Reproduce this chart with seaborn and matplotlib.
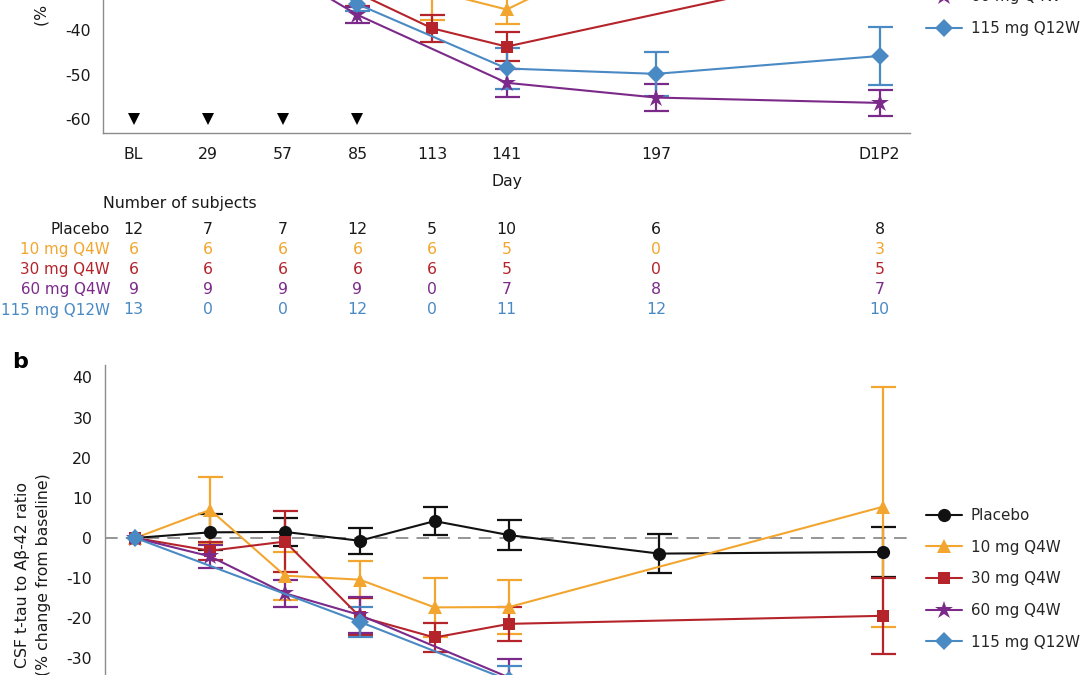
import numpy as np
import pandas as pd
import matplotlib
matplotlib.use('Agg')
import matplotlib.pyplot as plt
import seaborn as sns
from matplotlib.transforms import blended_transform_factory

# === Datos ===
visitas = ['BL', '29', '57', '85', '113', '141', '197', 'D1P2']
dias = [1, 29, 57, 85, 113, 141, 197, 281]
grupos = ['Placebo', '10 mg Q4W', '30 mg Q4W', '60 mg Q4W', '115 mg Q12W']
colores = ['#111111', '#F2A62F', '#B5242B', '#7C2A8A', '#4A8AC4']
marcadores = ['o', '^', 's', '*', 'D']
tam_marcador = [9.5, 10, 8.5, 13.5, 9.5]
nan = np.nan

# panel a (parte superior fuera del recorte: valores estimados)
a_placebo = [0, -3, 2, -1, 3, -2, -4, -3]
a_placebo_err = [nan, 4, 4, 4, 5, 4, 5, 5]
a_10 = [0, -8, -15, -22, -31.2, -35.4, nan, 5]
a_10_err = [nan, 5, 5, 5, 6.6, 3.3, nan, 8]
a_30 = [0, -10, -18, -31.7, -39.6, -43.7, nan, -25.6]
a_30_err = [nan, 4, 4, 2.9, 3.0, 3.2, nan, 6]
a_60 = [0, -12, -26.7, -36.6, nan, -51.8, -55.1, -56.3]
a_60_err = [nan, 4, 4, 1.8, nan, 3.1, 3.1, 3.0]
a_115 = [0, nan, nan, -34.2, nan, -48.6, -49.8, -45.8]
a_115_err = [nan, nan, nan, 1.5, nan, 4.5, 4.9, 6.4]

# panel b (parte inferior fuera del recorte: valores estimados)
b_placebo = [0, 1.4, 1.5, -0.7, 4.2, 0.7, -3.9, -3.5]
b_placebo_err = [nan, 4.5, 3.5, 3.3, 3.4, 3.7, 4.9, 6.3]
b_10 = [0, 7.0, -9.4, -10.4, -17.3, -17.2, nan, 7.8]
b_10_err = [nan, 8.3, 6.0, 4.6, 7.3, 6.7, nan, 29.9]
b_30 = [0, -3.2, -0.9, -19.6, -24.8, -21.4, nan, -19.4]
b_30_err = [nan, 2.3, 7.5, 4.7, 3.6, 4.2, nan, 9.5]
b_60 = [0, -4.6, -13.8, -19.2, nan, -34.8, -40, -42]
b_60_err = [nan, 2.9, 3.3, 4.5, nan, 4.7, 4, 4]
b_115 = [0, nan, nan, -20.9, nan, -35.5, -42, -40]
b_115_err = [nan, nan, nan, 3.7, nan, 3.5, 4, 4]

dias_dosis = [1, 29, 57, 85]
nivel_dosis = -60

# número de sujetos
n_placebo = [12, 7, 7, 12, 5, 10, 6, 8]
n_10 = [6, 6, 6, 6, 6, 5, 0, 3]
n_30 = [6, 6, 6, 6, 6, 5, 0, 5]
n_60 = [9, 9, 9, 9, 0, 7, 8, 7]
n_115 = [13, 0, 0, 12, 0, 11, 12, 10]

panel_a = [a_placebo, a_10, a_30, a_60, a_115]
panel_a_err = [a_placebo_err, a_10_err, a_30_err, a_60_err, a_115_err]
panel_b = [b_placebo, b_10, b_30, b_60, b_115]
panel_b_err = [b_placebo_err, b_10_err, b_30_err, b_60_err, b_115_err]
sujetos = [n_placebo, n_10, n_30, n_60, n_115]

# === Estilo ===
sns.set_style('white')
plt.rcParams['font.family'] = ['DejaVu Sans']
plt.rcParams['axes.unicode_minus'] = False
FS = 11.3
FS_ETIQ = 10.9
GRIS = '#8c8c8c'
TEXTO = '#1a1a1a'

fig = plt.figure(figsize=(10.8, 6.75), dpi=100)
ax_a = fig.add_axes([0.0956, 0.8025, 0.7471, 0.5172])
ax_b = fig.add_axes([0.0972, -0.1537, 0.7488, 0.613])


def tabla_larga(valores, errores):
    filas = []
    for g, vals, errs in zip(grupos, valores, errores):
        for d, v, e in zip(dias, vals, errs):
            if not np.isnan(v):
                filas.append({'dia': d, 'valor': v, 'err': e, 'grupo': g})
    return pd.DataFrame(filas)


def dibujar_panel(ax, valores, errores, ylim, yticks):
    df = tabla_larga(valores, errores)
    ax.axhline(0, color=GRIS, ls=(0, (7, 4.5)), lw=1.3, zorder=1)
    sns.lineplot(data=df, x='dia', y='valor', hue='grupo', style='grupo',
                 hue_order=grupos, style_order=grupos,
                 palette=dict(zip(grupos, colores)),
                 markers=dict(zip(grupos, marcadores)), dashes=False,
                 errorbar=None, lw=1.5, markeredgewidth=0, legend=False,
                 ax=ax, zorder=3)
    lineas = list(ax.lines[1:6])
    for ln, ms in zip(lineas, tam_marcador):
        ln.set_markersize(ms)
    for g, c in zip(grupos, colores):
        sub = df[(df['grupo'] == g) & df['err'].notna()]
        ax.errorbar(sub['dia'], sub['valor'], yerr=sub['err'], fmt='none',
                    ecolor=c, elinewidth=1.6, capsize=9, capthick=1.6, zorder=2)
    ax.set_xlim(-10.4, 292.4)
    ax.set_ylim(*ylim)
    ax.set_yticks(yticks)
    ax.set_xticks(dias, visitas)
    ax.set_xlabel('')
    ax.set_ylabel('')
    for s in ['top', 'right']:
        ax.spines[s].set_visible(False)
    for s in ['left', 'bottom']:
        ax.spines[s].set_color(GRIS)
        ax.spines[s].set_linewidth(1.0)
    ax.tick_params(axis='y', colors=GRIS, labelcolor=TEXTO, labelsize=FS,
                   length=4.75, width=1.0, pad=4.5)
    ax.tick_params(axis='x', colors=GRIS, labelcolor=TEXTO, labelsize=FS,
                   length=6, width=1.0, pad=4)
    return lineas


def leyenda(ax, handles, labels, loc, ancla):
    ax.legend(handles, labels, loc=loc, bbox_to_anchor=ancla,
              bbox_transform=fig.transFigure, frameon=False, fontsize=FS_ETIQ,
              handlelength=2.4, handletextpad=0.55, labelspacing=1.1,
              borderpad=0, borderaxespad=0)


# === Panel a (solo la parte baja queda dentro del recorte) ===
lineas_a = dibujar_panel(ax_a, panel_a, panel_a_err, (-63.1, 15), [-60, -50, -40])
ax_a.plot(dias_dosis, [nivel_dosis] * len(dias_dosis), 'v', color='black',
          ms=9, mew=0, zorder=4)
ax_a.set_xlabel('Day', fontsize=FS, color=TEXTO, labelpad=8.5)
leyenda(ax_a, lineas_a[3:], grupos[3:], 'lower left', (926 / 1080, 1 - 36 / 675))
fig.text(42.5 / 1080, 1 - 26 / 675, '(% change from baseline)',
         rotation=90, ha='center', va='bottom', fontsize=FS, color=TEXTO)

# === Tabla: número de sujetos ===
trans = blended_transform_factory(ax_a.transData, fig.transFigure)
fig.text(103.3 / 1080, 1 - 204 / 675, 'Number of subjects', ha='left',
         va='center', fontsize=FS, color=TEXTO)
filas_y = [229, 249.3, 269.5, 289.7, 310]
for g, c, n, y in zip(grupos, colores, sujetos, filas_y):
    color_txt = TEXTO if g == 'Placebo' else c
    fig.text(110.2 / 1080, 1 - y / 675, g, ha='right', va='center',
             fontsize=FS_ETIQ, color=color_txt)
    for d, k in zip(dias, n):
        ax_a.text(d, 1 - y / 675, str(k), transform=trans, ha='center',
                  va='center', fontsize=FS, color=color_txt, clip_on=False)

# === Panel b (la parte baja queda fuera del recorte) ===
lineas_b = dibujar_panel(ax_b, panel_b, panel_b_err, (-60, 43.1), range(-30, 41, 10))
ax_b.tick_params(axis='x', labelbottom=False)
leyenda(ax_b, lineas_b, grupos, 'upper left', (926 / 1080, 1 - 508 / 675))
fig.text(33.2 / 1080, 1 - 473.3 / 675,
         'CSF t-tau to A\u03b2-42 ratio\n(% change from baseline)',
         rotation=90, ha='center', va='top', multialignment='center',
         fontsize=FS, color=TEXTO, linespacing=1.45)
fig.text(12 / 1080, 1 - 361.5 / 675, 'b', ha='left', va='center',
         fontsize=16, fontweight='bold', color='black')

fig.savefig('out.png', dpi=100)
